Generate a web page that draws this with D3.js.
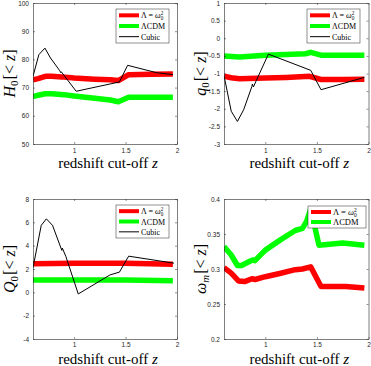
<!DOCTYPE html>
<html>
<head>
<meta charset="utf-8">
<script src="https://cdn.jsdelivr.net/npm/d3@7"></script>
<style>
  body { margin: 0; background: #fff; }
  svg { display: block; }
  .tick text { font-family: "Liberation Sans", Arial, sans-serif; font-size: 6.5px; fill: #262626; }
  .lbl { font-family: "Liberation Serif", "Times New Roman", serif; fill: #000; }
</style>
</head>
<body>
<div id="chart"></div>
<script>
// values (redshift cut-off z vs fitted parameter)
var xTicks = [1, 1.5, 2];

var h0RedZ   = [0.6, 0.65, 0.72, 0.78, 0.88, 1.0, 1.2, 1.35, 1.43, 1.53, 1.75, 1.96];
var h0Red    = [72.8, 73.2, 74.0, 74.0, 73.8, 73.4, 73.0, 72.8, 72.5, 74.6, 74.7, 74.8];
var h0GreenZ = [0.6, 0.65, 0.72, 0.78, 0.9, 1.0, 1.2, 1.35, 1.43, 1.53, 1.75, 1.96];
var h0Green  = [66.8, 67.3, 67.8, 67.8, 67.5, 67.0, 66.2, 65.6, 65.0, 66.6, 66.6, 66.6];
var h0CubicZ = [0.6, 0.657, 0.716, 0.77, 0.86, 0.87, 0.875, 1.02, 1.44, 1.52, 1.8, 1.96];
var h0Cubic  = [74, 81.7, 84, 80.5, 76, 75.3, 75.6, 68.7, 72, 77.9, 75.3, 74.6];
var h0Ticks  = [50, 60, 70, 80, 90, 100];

var q0RedZ   = [0.6, 0.67, 0.75, 1.0, 1.2, 1.43, 1.54, 1.75, 1.96];
var q0Red    = [-1.08, -1.12, -1.15, -1.13, -1.11, -1.08, -1.17, -1.17, -1.16];
var q0GreenZ = [0.6, 0.75, 1.0, 1.2, 1.39, 1.44, 1.54, 1.75, 1.96];
var q0Green  = [-0.5, -0.53, -0.48, -0.46, -0.44, -0.40, -0.48, -0.48, -0.48];
var q0CubicZ = [0.6, 0.67, 0.73, 0.79, 0.87, 0.875, 0.885, 1.03, 1.44, 1.54, 1.96];
var q0Cubic  = [-1.06, -2.07, -2.36, -2.03, -1.37, -1.30, -1.38, -0.45, -0.91, -1.46, -1.11];
var q0Ticks  = [-3, -2.5, -2, -1.5, -1, -0.5, 0, 0.5, 1];

var bigQRedZ   = [0.6, 1.0, 1.5, 1.96];
var bigQRed    = [2.45, 2.5, 2.5, 2.4];
var bigQGreenZ = [0.6, 1.0, 1.5, 1.96];
var bigQGreen  = [1.05, 1.05, 1.05, 1.0];
var bigQCubicZ = [0.6, 0.68, 0.73, 0.79, 0.88, 0.885, 0.92, 1.04, 1.35, 1.44, 1.53, 1.97];
var bigQCubic  = [2.1, 5.74, 6.3, 5.74, 3.6, 3.8, 3.06, -0.14, 1.5, 1.73, 3.1, 2.5];
var bigQTicks  = [-4, -2, 0, 2, 4, 6, 8];

var omRedZ   = [0.6, 0.67, 0.74, 0.8, 0.87, 0.9, 1.0, 1.15, 1.29, 1.36, 1.44, 1.54, 1.78, 1.96];
var omRed    = [0.302, 0.294, 0.283, 0.282, 0.286, 0.285, 0.289, 0.294, 0.299, 0.300, 0.303, 0.275, 0.275, 0.273];
var omGreenZ = [0.6, 0.67, 0.73, 0.77, 0.85, 0.88, 0.9, 1.0, 1.15, 1.29, 1.36, 1.40, 1.44, 1.52, 1.75, 1.96];
var omGreen  = [0.332, 0.32, 0.305, 0.305, 0.311, 0.313, 0.312, 0.327, 0.342, 0.355, 0.358, 0.368, 0.386, 0.334, 0.337, 0.334];
var omTicks  = [0.2, 0.25, 0.3, 0.35, 0.4];

var RED = "#ff0000", GREEN = "#00ff00", BLACK = "#000";

var svg = d3.select("#chart").append("svg")
    .attr("width", 371)
    .attr("height", 366);

var panels = [
  { left: 33, top: 3, w: 144, h: 141, ydom: [50, 100], yticks: h0Ticks, sym: "H", sub: "0", xlabY: 168, pad: 4.6,
    legend: { x: 116, y: 9, w: 53, h: 34, fs: 8 },
    series: [
      { name: "lam", z: h0RedZ, v: h0Red, c: RED, w: 5.5 },
      { name: "LCDM", z: h0GreenZ, v: h0Green, c: GREEN, w: 5.5 },
      { name: "Cubic", z: h0CubicZ, v: h0Cubic, c: BLACK, w: 1 }
    ] },
  { left: 224, top: 3, w: 144.5, h: 141, ydom: [-3, 1], yticks: q0Ticks, sym: "q", sub: "0", xlabY: 168, pad: 4.6,
    legend: { x: 307, y: 9, w: 53, h: 34, fs: 8 },
    series: [
      { name: "lam", z: q0RedZ, v: q0Red, c: RED, w: 5.5 },
      { name: "LCDM", z: q0GreenZ, v: q0Green, c: GREEN, w: 5.5 },
      { name: "Cubic", z: q0CubicZ, v: q0Cubic, c: BLACK, w: 1 }
    ] },
  { left: 33, top: 199, w: 144, h: 140, ydom: [-4, 8], yticks: bigQTicks, sym: "Q", sub: "0", xlabY: 364, pad: 3.8,
    legend: { x: 116, y: 205, w: 53, h: 33, fs: 8 },
    series: [
      { name: "lam", z: bigQRedZ, v: bigQRed, c: RED, w: 5.5 },
      { name: "LCDM", z: bigQGreenZ, v: bigQGreen, c: GREEN, w: 5.5 },
      { name: "Cubic", z: bigQCubicZ, v: bigQCubic, c: BLACK, w: 1 }
    ] },
  { left: 224, top: 199, w: 144.5, h: 140, ydom: [0.2, 0.4], yticks: omTicks, sym: "ω", sub: "m", xlabY: 364, pad: 3.8,
    legend: { x: 308, y: 206, w: 58, h: 22, fs: 8.5 },
    series: [
      { name: "lam", z: omRedZ, v: omRed, c: RED, w: 5.5 },
      { name: "LCDM", z: omGreenZ, v: omGreen, c: GREEN, w: 5.5 }
    ] }
];

panels.forEach(function(p, i) {
  var x = d3.scaleLinear().domain([0.6, 2]).range([p.left, p.left + p.w]);
  var y = d3.scaleLinear().domain(p.ydom).range([p.top + p.h, p.top]);
  var fmt = function(d) { return String(+d.toFixed(2)); };

  var g = svg.append("g");

  g.append("clipPath").attr("id", "clip" + i)
    .append("rect")
      .attr("x", p.left).attr("y", p.top)
      .attr("width", p.w).attr("height", p.h);

  var line = d3.line()
      .x(function(d) { return x(d[0]); })
      .y(function(d) { return y(d[1]); });

  p.series.forEach(function(s) {
    g.append("path")
      .datum(d3.zip(s.z, s.v))
      .attr("clip-path", "url(#clip" + i + ")")
      .attr("fill", "none")
      .attr("stroke", s.c)
      .attr("stroke-width", s.w)
      .attr("stroke-linejoin", "round")
      .attr("d", line);
  });

  // axes with inward ticks on all four sides (matlab box)
  function style(a) {
    a.selectAll(".domain").attr("stroke", "#262626").attr("stroke-width", 0.6);
    a.selectAll(".tick line").attr("stroke", "#262626").attr("stroke-width", 0.5);
  }
  g.append("g").attr("transform", "translate(0," + (p.top + p.h) + ")")
    .call(d3.axisBottom(x).tickValues(xTicks).tickFormat(fmt).tickSizeInner(-2).tickSizeOuter(0).tickPadding(p.pad))
    .call(style);
  g.append("g").attr("transform", "translate(0," + p.top + ")")
    .call(d3.axisTop(x).tickValues(xTicks).tickFormat("").tickSizeInner(-2).tickSizeOuter(0))
    .call(style);
  g.append("g").attr("transform", "translate(" + p.left + ",0)")
    .call(d3.axisLeft(y).tickValues(p.yticks).tickFormat(fmt).tickSizeInner(-2).tickSizeOuter(0).tickPadding(4))
    .call(style);
  g.append("g").attr("transform", "translate(" + (p.left + p.w) + ",0)")
    .call(d3.axisRight(y).tickValues(p.yticks).tickFormat("").tickSizeInner(-2).tickSizeOuter(0))
    .call(style);
  g.selectAll(".tick text").attr("fill", "#262626").attr("font-size", 6.5);

  // x label
  var xl = g.append("text").attr("class", "lbl")
      .attr("x", p.left + p.w / 2 + 3).attr("y", p.xlabY)
      .attr("text-anchor", "middle")
      .attr("font-size", 15);
  xl.append("tspan").text("redshift  cut-off ");
  xl.append("tspan").attr("font-style", "italic").text("z");

  // y label
  var yl = g.append("text").attr("class", "lbl")
      .attr("transform", "translate(" + (p.left - 18) + "," + (p.top + p.h / 2) + ") rotate(-90)")
      .attr("text-anchor", "middle")
      .attr("font-size", 16);
  yl.append("tspan").attr("font-style", "italic").text(p.sym);
  yl.append("tspan").attr("font-size", 11).attr("dy", 3).attr("font-style", p.sub === "m" ? "italic" : "normal").text(p.sub);
  yl.append("tspan").attr("dy", -3).attr("dx", 1).text("[< ");
  yl.append("tspan").attr("font-style", "italic").text("z");
  yl.append("tspan").text("]");

  // legend
  var L = p.legend;
  var lg = g.append("g");
  lg.append("rect")
    .attr("x", L.x).attr("y", L.y).attr("width", L.w).attr("height", L.h)
    .attr("fill", "#fff").attr("stroke", "#262626").attr("stroke-width", 0.5);
  var rowH = (L.h - 2) / p.series.length;
  p.series.forEach(function(s, k) {
    var cy = L.y + 1 + rowH * (k + 0.5);
    lg.append("line")
      .attr("x1", L.x + 3).attr("x2", L.x + 23)
      .attr("y1", cy).attr("y2", cy)
      .attr("stroke", s.c).attr("stroke-width", s.w > 2 ? 4 : 1);
    var t = lg.append("text").attr("class", "lbl")
      .attr("x", L.x + 25).attr("y", cy + 3)
      .attr("font-size", L.fs);
    if (s.name === "lam") {
      t.append("tspan").text("Λ = ");
      t.append("tspan").attr("font-style", "italic").text("ω");
      t.append("tspan").attr("font-size", L.fs * 0.65).attr("dy", 2).text("0");
      t.append("tspan").attr("font-size", L.fs * 0.65).attr("dx", -L.fs * 0.33).attr("dy", -5).text("2");
    } else if (s.name === "LCDM") {
      t.text("ΛCDM");
    } else {
      t.text("Cubic");
    }
  });
});
</script>
</body>
</html>
